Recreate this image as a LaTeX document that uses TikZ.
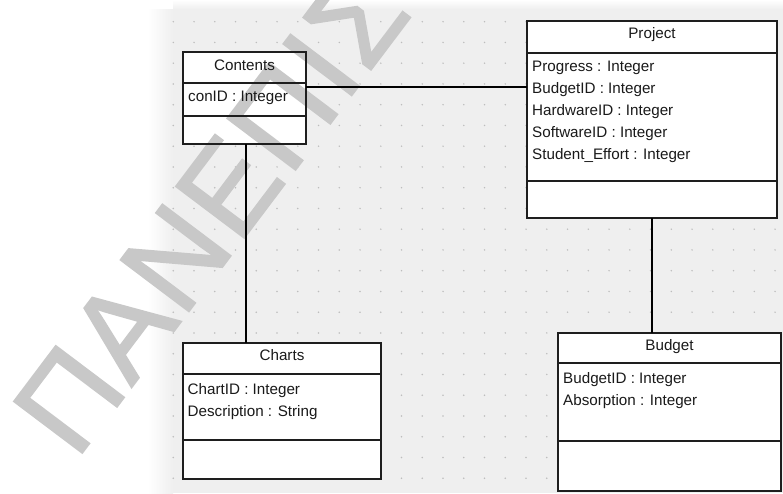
\documentclass[tikz,border=0pt]{standalone}
\usepackage{fontspec}
\setmainfont{Liberation Sans}
\newfontfamily\wmfont[FakeBold=1.6, LetterSpace=2]{Liberation Sans}
\usetikzlibrary{calc}

\definecolor{canvas}{HTML}{EFEFEF}
\definecolor{griddot}{HTML}{BDBDBD}
\definecolor{boxline}{HTML}{1E1E1E}
\definecolor{txt}{HTML}{1A1A1A}
\definecolor{wmgray}{HTML}{C8C8C8}

\newcommand\umlfont{\fontsize{15.2}{18}\selectfont}

\tikzset{
  classfill/.style={fill=white, inner sep=0pt, outer sep=0pt},
  classframe/.style={draw=boxline, line width=1.5pt},
  divider/.style={draw=boxline, line width=1.5pt},
  assoc/.style={draw=black, line width=1.2pt},
  ctitle/.style={font=\umlfont, text=txt, anchor=base, inner sep=0pt},
  cattr/.style={font=\umlfont, text=txt, anchor=base west, inner sep=0pt},
}

\begin{document}
\begin{tikzpicture}[x=1pt, y=-1pt]
\useasboundingbox (0,0) rectangle (783,493);

% page and drawing canvas with soft edges
\fill[white] (0,0) rectangle (783,493);
\fill[canvas] (173,9) rectangle (783,493);
\shade[left color=white, right color=canvas] (148,9) rectangle (173,493);
\shade[top color=white, bottom color=canvas] (173,0) rectangle (783,9);

% dotted grid
\foreach \i in {0,...,29} {
  \foreach \j in {0,...,22} {
    \fill[griddot] ({173.3+20.75*\i},{21.7+20.75*\j}) circle (0.85);
  }
}

% class bodies
\node[classfill, minimum width=123, minimum height=92]  (contents) at (244.5,98) {};
\node[classfill, minimum width=250, minimum height=197] (project)  at (652,119.5) {};
\node[classfill, minimum width=198, minimum height=136] (charts)   at (282,411) {};
\node[classfill, minimum width=223, minimum height=158] (budget)   at (669.5,412) {};

% watermark, under the lines and the text
\node[rotate=53, anchor=base west, inner sep=0pt, text=wmgray,
      font=\wmfont\fontsize{124}{124}\selectfont] (wm) at (76,461) {ΠΑΝΕΠΙΣ};

% class frames and compartment dividers
\foreach \c in {contents,project,charts,budget}
  \draw[classframe] (\c.north west) rectangle (\c.south east);
\draw[divider] ([yshift=-31pt]contents.north west) -- ([yshift=-31pt]contents.north east);
\draw[divider] ([yshift=-64pt]contents.north west) -- ([yshift=-64pt]contents.north east);
\draw[divider] ([yshift=-32pt]project.north west) -- ([yshift=-32pt]project.north east);
\draw[divider] ([yshift=-160pt]project.north west) -- ([yshift=-160pt]project.north east);
\draw[divider] ([yshift=-31pt]charts.north west) -- ([yshift=-31pt]charts.north east);
\draw[divider] ([yshift=-97pt]charts.north west) -- ([yshift=-97pt]charts.north east);
\draw[divider] ([yshift=-30pt]budget.north west) -- ([yshift=-30pt]budget.north east);
\draw[divider] ([yshift=-108pt]budget.north west) -- ([yshift=-108pt]budget.north east);

% associations
\coordinate (cp) at ($(contents.north east)!0.38!(contents.south east)$);
\coordinate (cs) at ($(contents.south)+(1.5,0)$);
\draw[assoc] (cp) -- (cp -| project.west);
\draw[assoc] (cs) -- (cs |- charts.north);
\draw[assoc] (project.south) -- (project.south |- budget.north);

% class names
\node[ctitle] (contents-t) at (244.5,70)   {Contents};
\node[ctitle] (project-t)  at (652,38.3)   {Project};
\node[ctitle] (charts-t)   at (282,360.7)  {Charts};
\node[ctitle] (budget-t)   at (669.5,350)  {Budget};

% attributes
\node[cattr] (contents-a1) at (188,101.7) {conID : Integer};

\node[cattr] (project-a1) at (532,71.6)  {Progress : Integer};
\node[cattr] (project-a2) at (532,93.5)  {BudgetID : Integer};
\node[cattr] (project-a3) at (532,115.4) {HardwareID : Integer};
\node[cattr] (project-a4) at (532,137.3) {SoftwareID : Integer};
\node[cattr] (project-a5) at (532,159.2) {Student\_Effort : Integer};

\node[cattr] (charts-a1) at (187.5,394) {ChartID : Integer};
\node[cattr] (charts-a2) at (187.5,416) {Description : String};

\node[cattr] (budget-a1) at (563,383.3) {BudgetID : Integer};
\node[cattr] (budget-a2) at (563,405.3) {Absorption : Integer};
\end{tikzpicture}
\end{document}
